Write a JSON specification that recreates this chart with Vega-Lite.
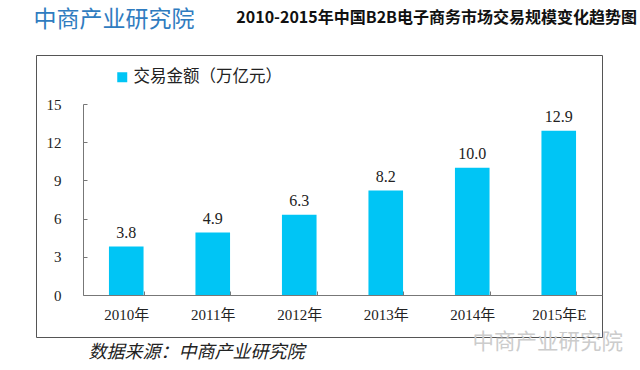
{
  "$schema": "https://vega.github.io/schema/vega-lite/v6.json",
  "autosize": {"type": "none"},
  "padding": {"left": 36, "top": 55, "right": 38, "bottom": 33},
  "width": 566,
  "height": 282,
  "background": "white",
  "title": {
    "text": "2010-2015年中国B2B电子商务市场交易规模变化趋势图",
    "anchor": "end",
    "frame": "group",
    "dx": 35,
    "offset": -26,
    "baseline": "middle",
    "font": "Noto Sans CJK SC",
    "fontSize": 16,
    "fontWeight": "bold",
    "color": "#111111"
  },
  "data": {
    "values": [
      {"year": "2010年", "value": 3.8},
      {"year": "2011年", "value": 4.9},
      {"year": "2012年", "value": 6.3},
      {"year": "2013年", "value": 8.2},
      {"year": "2014年", "value": 10.0},
      {"year": "2015年E", "value": 12.9}
    ]
  },
  "encoding": {
    "x": {
      "field": "year",
      "type": "nominal",
      "sort": null,
      "scale": {"range": [47, 566], "paddingInner": 0.6, "paddingOuter": 0.3},
      "axis": {
        "orient": "bottom",
        "offset": -42,
        "tickBand": "extent",
        "tickSize": -4,
        "labelPadding": 16,
        "labelFont": "Liberation Serif, Noto Sans CJK SC",
        "labelFontSize": 15,
        "labelAngle": 0,
        "labelColor": "#222222",
        "domainColor": "#777777",
        "tickColor": "#777777",
        "title": "数据来源：中商产业研究院",
        "titleX": 52,
        "titleY": 57,
        "titleAlign": "left",
        "titleBaseline": "middle",
        "titleFont": "Noto Sans CJK SC",
        "titleFontSize": 18,
        "titleFontStyle": "italic",
        "titleFontWeight": "normal",
        "titleColor": "#222222"
      }
    }
  },
  "layer": [
    {
      "mark": {"type": "bar"},
      "encoding": {
        "y": {
          "field": "value",
          "type": "quantitative",
          "scale": {"domain": [0, 15], "range": [240, 49], "nice": false},
          "axis": {
            "orient": "left",
            "offset": -47,
            "values": [0, 3, 6, 9, 12, 15],
            "tickSize": -4,
            "labelPadding": 26,
            "labelFont": "Liberation Serif",
            "labelFontSize": 15,
            "labelColor": "#222222",
            "domainColor": "#777777",
            "tickColor": "#777777",
            "grid": false,
            "title": "中商产业研究院",
            "titleX": -50,
            "titleY": -36,
            "titleAngle": 0,
            "titleAlign": "left",
            "titleBaseline": "middle",
            "titleFont": "Noto Sans CJK SC",
            "titleFontSize": 23,
            "titleFontWeight": "normal",
            "titleColor": "#2f7cc0"
          }
        },
        "color": {
          "datum": "交易金额（万亿元）",
          "scale": {"range": ["#00c5f5"]},
          "legend": {
            "orient": "none",
            "legendX": 78,
            "legendY": 14,
            "title": null,
            "symbolType": "square",
            "symbolSize": 100,
            "symbolStrokeWidth": 0,
            "labelOffset": 3,
            "labelFont": "Noto Sans CJK SC",
            "labelFontSize": 16.5,
            "labelColor": "#222222"
          }
        }
      }
    },
    {
      "mark": {"type": "text", "baseline": "bottom", "dy": -6, "font": "Liberation Serif", "fontSize": 16, "color": "#222222"},
      "encoding": {
        "y": {
          "field": "value",
          "type": "quantitative",
          "scale": {"domain": [0, 15], "range": [240, 49], "nice": false},
          "axis": {
            "orient": "right",
            "labels": false,
            "ticks": false,
            "domain": false,
            "grid": false,
            "title": "中商产业研究院",
            "titleX": -130,
            "titleY": 287,
            "titleAngle": 0,
            "titleAlign": "left",
            "titleBaseline": "middle",
            "titleFont": "Noto Sans CJK SC",
            "titleFontSize": 21.5,
            "titleFontWeight": "normal",
            "titleColor": "#cccccc"
          }
        },
        "text": {"field": "value", "type": "quantitative", "format": ".1f"}
      }
    }
  ],
  "resolve": {"scale": {"y": "independent"}},
  "config": {
    "view": {"stroke": "#555555", "strokeWidth": 1}
  }
}
